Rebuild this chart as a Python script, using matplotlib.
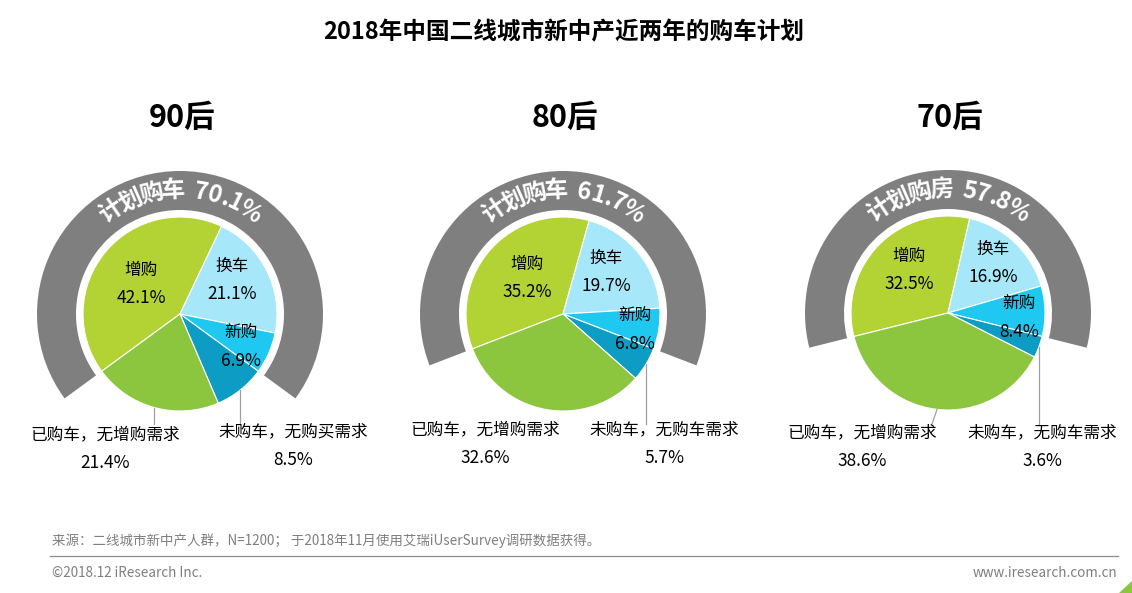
import matplotlib
matplotlib.use("Agg")
import matplotlib.pyplot as plt
from matplotlib.patches import Wedge, Polygon
from matplotlib.font_manager import FontProperties
import numpy as np

plt.rcParams['font.family'] = ['Noto Sans CJK SC', 'DejaVu Sans']

# ---------------- data ----------------
title = "2018年中国二线城市新中产近两年的购车计划"
groups = ["90后", "80后", "70后"]
plan_labels = ["计划购车 70.1%", "计划购车 61.7%", "计划购房 57.8%"]
plan_values = [70.1, 61.7, 57.8]
# slice order (clockwise from the left end of the arc)
slice_names = ["增购", "换车", "新购", "未购车", "已购车"]
v_90 = [42.1, 21.1, 6.9, 8.5, 21.4]
v_80 = [35.2, 19.7, 6.8, 5.7, 32.6]
v_70 = [32.5, 16.9, 8.4, 3.6, 38.6]
outside_90 = ["已购车，无增购需求", "未购车，无购买需求"]
outside_80 = ["已购车，无增购需求", "未购车，无购车需求"]
outside_70 = ["已购车，无增购需求", "未购车，无购车需求"]
source_text = "来源：二线城市新中产人群，N=1200； 于2018年11月使用艾瑞iUserSurvey调研数据获得。"
copyright_text = "©2018.12 iResearch Inc."
site_text = "www.iresearch.com.cn"

colors = ["#b3d234", "#a6e8f9", "#1ec8f0", "#0c9cc4", "#8cc63f"]
ARC = "#7f7f7f"

W, H = 1132, 593
fig = plt.figure(figsize=(W / 100, H / 100), dpi=100)
ax = fig.add_axes([0, 0, 1, 1])

def Y(y):
    return H - y

centers = [(180, 314), (563, 314), (948, 313)]
R = 97
R_OUT = 143
ARC_W = 39

values_all = [v_90, v_80, v_70]
outside_all = [outside_90, outside_80, outside_70]

# inside label positions (pixel coords)
inside_pos = [
    [(141, 270), (232, 266), (241, 333)],
    [(527, 264), (606, 258), (635, 316)],
    [(909, 256), (993, 249), (1019, 304)],
]
outside_pos = [
    [(105, 435), (293, 432)],
    [(485, 430), (664, 430)],
    [(862, 433), (1042, 433)],
]
# leader lines: (draw?, end x)
leader_spec = [
    [(True, None), (True, None)],
    [(False, None), (True, None)],
    [(True, 932), (True, None)],
]

ARC_FS = 17
fp_arc = FontProperties(family=['Noto Sans CJK SC', 'DejaVu Sans'], weight='bold', size=ARC_FS)
EM = ARC_FS * 100 / 72


def advance(ch):
    if ch == ' ':
        return 0.4 * EM
    if ch == '.':
        return 0.3 * EM
    if ch == '%':
        return 0.9 * EM
    if ch.isdigit():
        return 0.6 * EM
    return 0.95 * EM


def curved_text(cx, cy, s, r):
    widths = [advance(ch) for ch in s]
    total = sum(widths)
    start = np.pi / 2 + total / (2 * r)
    cum = 0
    for ch, w in zip(s, widths):
        th = start - (cum + w / 2) / r
        cum += w
        if ch == ' ':
            continue
        x = cx + r * np.cos(th)
        y = cy + r * np.sin(th)
        ax.text(x, y, ch, ha='center', va='center', rotation=np.degrees(th) - 90,
                rotation_mode='anchor', fontproperties=fp_arc, color='white')


for i, (cx, cy_px) in enumerate(centers):
    cy = Y(cy_px)
    vals = values_all[i]
    plan = plan_values[i]
    half = plan * 1.8
    ax.add_patch(Wedge((cx, cy), R_OUT, 90 - half, 90 + half, width=ARC_W,
                       facecolor=ARC, edgecolor='none'))
    wedges, _ = ax.pie(vals, colors=colors, startangle=90 + half, counterclock=False,
                       radius=R, center=(cx, cy),
                       wedgeprops=dict(edgecolor='white', linewidth=0.8))
    curved_text(cx, cy, plan_labels[i], 124)
    ax.text(cx + 2, Y(118), groups[i], ha='center', va='center', fontsize=22,
            fontweight='bold', color='black')
    # inside labels
    for j in range(3):
        px, py = inside_pos[i][j]
        ax.text(px, Y(py), slice_names[j], ha='center', va='center', fontsize=12, color='black')
        ax.text(px, Y(py + 28), f"{vals[j]:.1f}%", ha='center', va='center', fontsize=12.5,
                color='black')
    # outside labels
    for k, j in enumerate([4, 3]):
        px, py = outside_pos[i][k]
        ax.text(px, Y(py), outside_all[i][k], ha='center', va='center', fontsize=12, color='black')
        ax.text(px, Y(py + 28), f"{vals[j]:.1f}%", ha='center', va='center', fontsize=12.5,
                color='black')
        draw, xend = leader_spec[i][k]
        if draw:
            w = wedges[j]
            mid = np.radians((w.theta1 + w.theta2) / 2)
            x0 = cx + R * np.cos(mid)
            y0 = cy + R * np.sin(mid)
            x1 = x0 if xend is None else xend
            ax.plot([x0, x1], [y0, Y(424)], color='#a0a0a0', lw=0.9)

ax.text(564, Y(32), title, ha='center', va='center', fontsize=17, fontweight='bold', color='black')

# footer
ax.text(52, Y(541), source_text, ha='left', va='center', fontsize=9.7, color='#7f7f7f')
ax.plot([50, 1118], [Y(556), Y(556)], color='#8c8c8c', lw=0.9)
ax.text(52, Y(573), copyright_text, ha='left', va='center', fontsize=9.7, color='#7f7f7f')
ax.text(1117, Y(573), site_text, ha='right', va='center', fontsize=9.7, color='#7f7f7f')
ax.add_patch(Polygon([(1132, Y(581)), (1132, Y(593)), (1119, Y(593))], closed=True,
                     facecolor='#8cc63f', edgecolor='none'))

ax.set_xlim(0, W)
ax.set_ylim(0, H)
ax.set_aspect('equal')
ax.axis('off')
fig.savefig("out.png", dpi=100, facecolor='white')
